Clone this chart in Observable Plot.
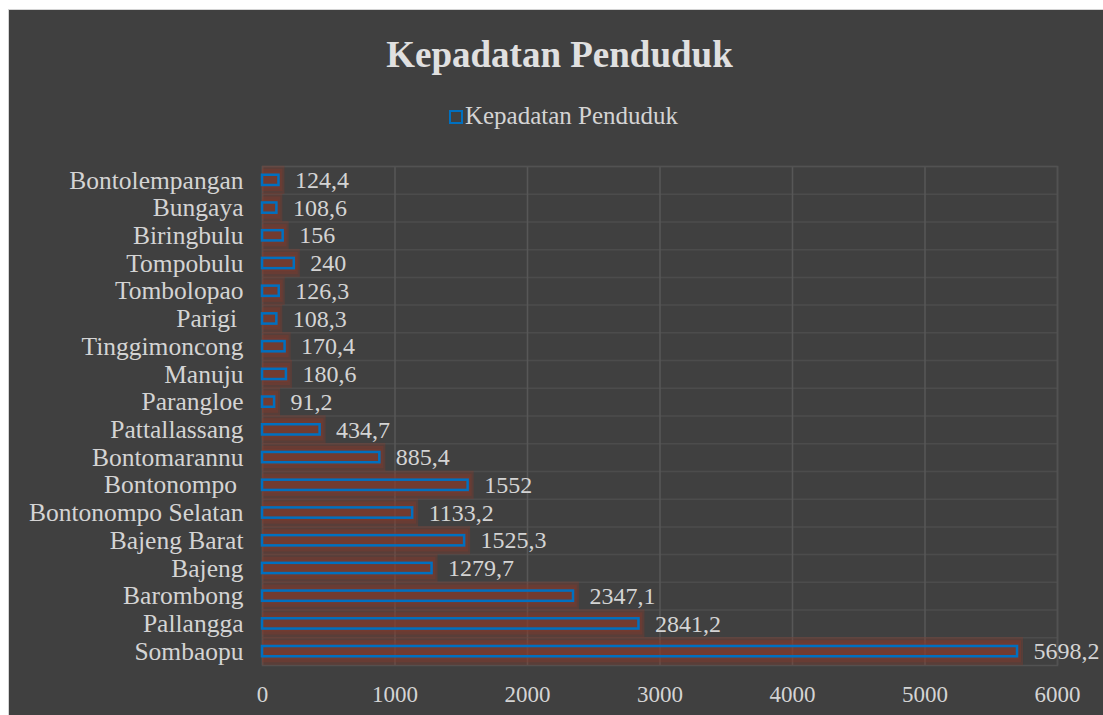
<!DOCTYPE html>
<html><head><meta charset="utf-8">
<script src="https://cdn.jsdelivr.net/npm/d3@7"></script>
<script src="https://cdn.jsdelivr.net/npm/@observablehq/plot@0.6"></script>
<style>
html,body{margin:0;padding:0;background:#fff;width:1103px;height:715px;overflow:hidden;position:relative}
#frame{position:absolute;left:8px;top:9px;width:1095px;height:706px;background:#404040;border-left:1px solid #d4d4d4;border-top:1px solid #d4d4d4;box-sizing:border-box}
#title{position:absolute;left:0;width:1119px;top:33px;text-align:center;font-family:'Liberation Serif',serif;font-weight:bold;font-size:37px;line-height:44px;color:#e0e0e0}
#legend{position:absolute;left:0;width:1127px;top:101px;display:flex;justify-content:center;align-items:center;font-family:'Liberation Serif',serif;font-size:25px;line-height:30px;color:#d4d4d4}
#legend .sw{width:10px;height:10px;border:2px solid #0070c0;margin-right:2px;margin-top:2px}
#chart{position:absolute;left:0;top:140px}
</style></head>
<body>
<div id="frame"></div>
<div id="title">Kepadatan Penduduk</div>
<div id="legend"><div class="sw"></div><span>Kepadatan Penduduk</span></div>
<div id="chart"></div>
<script>
const categories = ["Bontolempangan","Bungaya","Biringbulu","Tompobulu","Tombolopao","Parigi ","Tinggimoncong","Manuju","Parangloe","Pattallassang","Bontomarannu","Bontonompo ","Bontonompo Selatan","Bajeng Barat","Bajeng","Barombong","Pallangga","Sombaopu"];
const values = [124.4,108.6,156,240,126.3,108.3,170.4,180.6,91.2,434.7,885.4,1552,1133.2,1525.3,1279.7,2347.1,2841.2,5698.2];
const xTicks = [0,1000,2000,3000,4000,5000,6000];

const data = categories.map((c,i)=>({name:c, value:values[i]}));
const fmt = v => String(v).replace(".", ",");
const H = 575, mTop = 26, mBottom = 50;
const step = (H - mTop - mBottom) / categories.length;

// soft glow approximated with stacked translucent layers
const glow = [[-9,-6],[-6,-4],[-3,-2]].map(([v,h]) =>
  Plot.barX(data, {x:"value", y:"name", fill:"#8a3a2a", fillOpacity:0.33, insetTop:v, insetBottom:v, insetRight:h}));

const svg = Plot.plot({
  width:1103, height:H,
  marginLeft:262, marginRight:46, marginTop:mTop, marginBottom:mBottom,
  style:{background:"transparent", color:"#d4d4d4", fontFamily:"'Liberation Serif', serif", fontSize:"23px", overflow:"visible"},
  x:{domain:[0,6000], ticks:xTicks, tickFormat:d=>String(d), label:null, tickSize:0, tickPadding:20},
  y:{domain:categories, paddingInner:0.63, paddingOuter:0.315, round:false, label:null, tickSize:0, tickPadding:19, tickFormat:d=>d.replace(/ $/,"\u00a0")},
  marks:[
    Plot.ruleY(categories, {y:d=>d, dy:-step/2, stroke:"#4c4c4c", strokeWidth:1.5}),
    Plot.gridX(xTicks, {stroke:"#575757", strokeOpacity:1, strokeWidth:1.5}),
    Plot.frame({stroke:"#525252", strokeWidth:1.5}),
    ...glow,
    Plot.barX(data, {x:"value", y:"name", fill:"none", stroke:"#0070c0", strokeWidth:2.5}),
    Plot.text(data, {x:"value", y:"name", text:d=>fmt(d.value), textAnchor:"start", dx:16, fill:"#d4d4d4", fontSize:24})
  ]
});
const s = d3.select(svg);
s.selectAll('g[aria-label="y-axis tick label"] text, g[aria-label="y-axis tick label"]').attr("font-size", "25.5px");
document.getElementById("chart").appendChild(svg);
</script>
</body></html>
